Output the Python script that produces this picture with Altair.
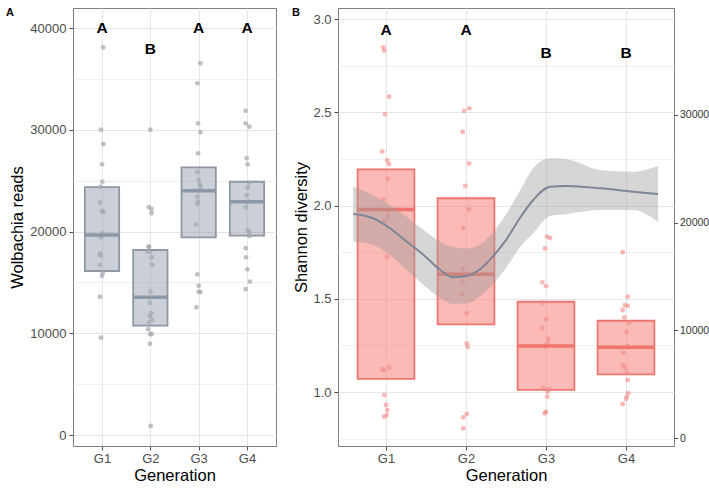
import altair as alt
import pandas as pd

FONT = "Liberation Sans"
generations = ["G1", "G2", "G3", "G4"]

# ---------------- Panel A: Wolbachia reads ----------------
a_g1 = [38100, 30000, 28600, 26600, 24900, 24400, 22830, 22000, 21950, 19820,
        19430, 17850, 17620, 16700, 15950, 15630, 13590, 9560]
a_g2 = [30000, 22380, 22210, 21790, 18540, 18450, 18050, 18000, 17470, 16710,
        14090, 13000, 11960, 11700, 11300, 11040, 10390, 9930, 9900, 8970, 880]
a_g3 = [36530, 34560, 30630, 29750, 27680, 25820, 25060, 24640, 24400, 24010,
        23420, 22930, 22700, 20700, 15790, 14670, 14090, 14050, 12550]
a_g4 = [31870, 30630, 30300, 27190, 26600, 24800, 24340, 23590, 22930, 22380,
        20150, 19920, 19560, 18350, 17460, 16280, 15070, 14320]
# horizontal jitter (category units)
a_j1 = [0.027, -0.021, 0.027, 0.0, 0.006, -0.027, -0.041, 0.0, 0.031, 0.01,
        -0.021, -0.041, -0.027, -0.041, 0.014, 0.0, -0.041, -0.021]
a_j2 = [0.0, -0.031, 0.025, 0.025, -0.031, -0.031, -0.058, -0.01, 0.025, 0.037,
        0.0, -0.01, 0.025, -0.01, 0.037, -0.031, -0.045, 0.025, 0.0, -0.01, 0.006]
a_j3 = [0.035, -0.027, -0.014, 0.035, -0.014, -0.027, 0.0, 0.021, 0.041, 0.006,
        -0.027, -0.014, -0.027, -0.047, -0.027, 0.0, 0.0, 0.035, -0.047]
a_j4 = [-0.027, -0.027, 0.047, -0.006, 0.014, 0.047, 0.014, -0.006, 0.027, -0.027,
        0.014, 0.047, 0.047, -0.027, -0.021, 0.006, 0.062, -0.027]
a_q1 = [16120, 10740, 19430, 19590]
a_med = [19660, 13530, 24010, 22930]
a_q3 = [24370, 18180, 26300, 24890]
a_letters = ["A", "B", "A", "A"]
a_letter_y = [40000, 37900, 40000, 40000]
a_ticks = [0, 5000, 10000, 15000, 20000, 25000, 30000, 35000, 40000]

# ---------------- Panel B: Shannon diversity ----------------
b_g1 = [2.848, 2.830, 2.583, 2.489, 2.289, 2.241, 2.222, 2.142, 2.033, 1.972,
        1.944, 1.917, 1.725, 1.121, 1.118, 1.132, 0.984, 0.930, 0.903, 0.877, 0.868]
b_g2 = [2.521, 2.507, 2.396, 2.226, 2.105, 1.980, 1.881, 1.658, 1.591, 1.525,
        1.422, 1.261, 1.243, 0.882, 0.864, 0.805]
b_g3 = [1.833, 1.826, 1.770, 1.588, 1.568, 1.479, 1.390, 1.342, 1.284, 1.262,
        1.243, 1.020, 1.015, 1.002, 0.975, 0.894, 0.886]
b_g4 = [1.749, 1.511, 1.466, 1.462, 1.440, 1.400, 1.372, 1.323, 1.247, 1.211,
        1.145, 1.130, 1.103, 1.064, 0.993, 0.975, 0.962, 0.935]
b_j1 = [-0.034, -0.021, 0.038, -0.013, -0.046, 0.016, 0.038, 0.021, -0.034, 0.016,
        0.029, -0.021, 0.009, -0.046, -0.025, 0.041, -0.021, 0.0, 0.016, 0.009, -0.025]
b_j2 = [0.041, -0.025, -0.041, 0.038, -0.009, 0.038, -0.034, -0.034, -0.046, -0.054,
        0.009, 0.009, 0.021, 0.009, -0.034, -0.034]
b_j3 = [0.013, 0.05, -0.013, -0.046, 0.0, -0.041, 0.0, -0.046, 0.029, 0.016,
        -0.013, -0.034, 0.041, 0.021, 0.016, 0.0, -0.016]
b_j4 = [-0.041, 0.021, -0.013, 0.021, -0.041, -0.021, 0.041, 0.009, 0.021, -0.034,
        -0.041, -0.013, 0.009, 0.021, 0.029, 0.009, 0.0, -0.041]
b_q1 = [1.070, 1.363, 1.011, 1.095]
b_med = [1.979, 1.631, 1.247, 1.240]
b_q3 = [2.194, 2.039, 1.484, 1.382]
b_letters = ["A", "A", "B", "B"]
b_letter_y = [2.94, 2.94, 2.82, 2.82]
b_ticks = [0.75, 1.0, 1.25, 1.5, 1.75, 2.0, 2.25, 2.5, 2.75, 3.0]

# smoothed Wolbachia reads (secondary axis) with confidence band
smooth_x = [0.59, 0.84, 1.05, 1.26, 1.47, 1.68, 1.84, 2.01, 2.18, 2.34, 2.51, 2.68,
            2.84, 3.05, 3.26, 3.68, 4.09, 4.40]
smooth_fit = [20805, 20406, 19477, 18232, 16997, 15604, 14926, 15047, 15700, 16900,
              18500, 20500, 22105, 23341, 23406, 23192, 22877, 22663]
smooth_hi = [23341, 22570, 21641, 20555, 19319, 18232, 17740, 17601, 18019, 19133,
             20870, 23034, 25050, 25978, 25885, 24892, 24734, 25263]
smooth_lo = [18232, 17926, 16997, 15604, 14211, 12975, 12446, 12492, 13189, 14304,
             15910, 17768, 19013, 20619, 20805, 21177, 21177, 20090]
r_ticks = [0, 10000, 20000, 30000]


def points_df(groups, jitters, col):
    rows = []
    for i, (vals, jit) in enumerate(zip(groups, jitters)):
        for v, j in zip(vals, jit):
            rows.append({"gen": i + 1, "pos": i + 1 + j, col: v})
    return pd.DataFrame(rows)


a_pts = points_df([a_g1, a_g2, a_g3, a_g4], [a_j1, a_j2, a_j3, a_j4], "val")
b_pts = points_df([b_g1, b_g2, b_g3, b_g4], [b_j1, b_j2, b_j3, b_j4], "val")
a_box = pd.DataFrame({"gen": [1, 2, 3, 4], "name": generations, "q1": a_q1,
                      "med": a_med, "q3": a_q3, "lab": a_letters, "ly": a_letter_y})
b_box = pd.DataFrame({"gen": [1, 2, 3, 4], "name": generations, "q1": b_q1,
                      "med": b_med, "q3": b_q3, "lab": b_letters, "ly": b_letter_y})
smooth = pd.DataFrame({"sx": smooth_x, "fit": smooth_fit, "lo": smooth_lo, "hi": smooth_hi})

HALF = 0.355
GRID = "#e6e6e6"


def xenc(field):
    return alt.X(f"{field}:Q",
                 scale=alt.Scale(domain=[0.4, 4.6], nice=False, zero=False),
                 axis=alt.Axis(values=[1, 2, 3, 4], labelExpr="'G' + datum.value",
                               title="Generation", grid=True, gridColor=GRID,
                               tickSize=4, labelPadding=2, titlePadding=2))


a_major = "datum.value % 10000 === 0"
b_major = "abs(datum.value * 2 - round(datum.value * 2)) < 0.0001"


def yA(field):
    return alt.Y(f"{field}:Q",
                 scale=alt.Scale(domain=[-1081, 41966], nice=False, zero=False),
                 axis=alt.Axis(values=a_ticks, format="d",
                               labelExpr=f"{a_major} ? datum.label : ''",
                               tickOpacity={"condition": {"test": a_major, "value": 1}, "value": 0},
                               gridWidth={"condition": {"test": a_major, "value": 1}, "value": 0.6},
                               title="Wolbachia reads", titlePadding=4, labelPadding=3,
                               tickSize=4))


def yB(field):
    return alt.Y(f"{field}:Q",
                 scale=alt.Scale(domain=[0.7105, 3.059], nice=False, zero=False),
                 axis=alt.Axis(values=b_ticks, format=".1f",
                               labelExpr=f"{b_major} ? datum.label : ''",
                               tickOpacity={"condition": {"test": b_major, "value": 1}, "value": 0},
                               gridWidth={"condition": {"test": b_major, "value": 1}, "value": 0.6},
                               title="Shannon diversity", titlePadding=3, labelPadding=3,
                               tickSize=4))


def yR(field):
    return alt.Y(f"{field}:Q",
                 scale=alt.Scale(domain=[-743, 39937], nice=False, zero=False),
                 axis=alt.Axis(orient="right", values=r_ticks, format="d", grid=False,
                               title=None, labelFontSize=10.5, labelColor="#333333",
                               tickSize=3.5, labelPadding=2))


# ---------- Panel A ----------
A_COL = "#8e97a4"
a_boxes = alt.Chart(a_box).transform_calculate(
    lo=f"datum.gen - {HALF}", hi=f"datum.gen + {HALF}"
).mark_rect(fill=A_COL, fillOpacity=0.45, stroke=A_COL, strokeWidth=1.8).encode(
    x=xenc("lo"), x2="hi:Q", y=yA("q1"), y2="q3:Q")
a_points = alt.Chart(a_pts).mark_circle(size=24, color="#a3a8b1", opacity=0.7).encode(
    x=xenc("pos"), y=yA("val"))
a_median = alt.Chart(a_box).transform_calculate(
    lo=f"datum.gen - {HALF}", hi=f"datum.gen + {HALF}"
).mark_rule(color=A_COL, strokeWidth=3.5).encode(
    x=xenc("lo"), x2="hi:Q", y=yA("med"))
a_text = alt.Chart(a_box).mark_text(font=FONT, fontSize=15.5, fontWeight="bold",
                                    color="black", baseline="middle").encode(
    x=xenc("gen"), y=yA("ly"), text="lab:N")

chartA = alt.layer(a_boxes, a_points, a_median, a_text).properties(
    width=203, height=438,
    title=alt.TitleParams("A", anchor="start", frame="group", orient="top", offset=0,
                          dx=-67, dy=18.5, baseline="alphabetic", fontSize=11,
                          fontWeight="bold", color="black", font=FONT))

# ---------- Panel B ----------
B_COL = "#f0756f"
b_boxes = alt.Chart(b_box).transform_calculate(
    lo=f"datum.gen - {HALF}", hi=f"datum.gen + {HALF}"
).mark_rect(fill="#f8766d", fillOpacity=0.5, stroke=B_COL, strokeWidth=1.8).encode(
    x=xenc("lo"), x2="hi:Q", y=yB("q1"), y2="q3:Q")
b_points = alt.Chart(b_pts).mark_circle(size=24, color="#f28a86", opacity=0.6).encode(
    x=xenc("pos"), y=yB("val"))
b_median = alt.Chart(b_box).transform_calculate(
    lo=f"datum.gen - {HALF}", hi=f"datum.gen + {HALF}"
).mark_rule(color=B_COL, strokeWidth=3.5).encode(
    x=xenc("lo"), x2="hi:Q", y=yB("med"))
b_text = alt.Chart(b_box).mark_text(font=FONT, fontSize=15.5, fontWeight="bold",
                                    color="black", baseline="middle").encode(
    x=xenc("gen"), y=yB("ly"), text="lab:N")
leftB = alt.layer(b_boxes, b_points, b_median, b_text)

band = alt.Chart(smooth).mark_area(color="#999999", opacity=0.4, interpolate="monotone").encode(
    x=xenc("sx"), y=yR("lo"), y2="hi:Q")
line = alt.Chart(smooth).mark_line(color="#7c8696", strokeWidth=2, interpolate="monotone").encode(
    x=xenc("sx"), y=yR("fit"))
rightB = alt.layer(band, line)

chartB = alt.layer(leftB, rightB).resolve_scale(y="independent").properties(
    width=336, height=438,
    title=alt.TitleParams("B", anchor="start", frame="group", orient="top", offset=0,
                          dx=-46, dy=18.5, baseline="alphabetic", fontSize=11,
                          fontWeight="bold", color="black", font=FONT))

chart = alt.hconcat(chartA, chartB, spacing=62, bounds="flush").properties(
    autosize=alt.AutoSizeParams(type="none"),
    padding={"left": 73, "top": 8, "right": 636, "bottom": 486},
).configure_view(stroke="#7f7f7f", strokeWidth=1).configure_axis(
    labelFont=FONT, titleFont=FONT, labelFontSize=13, titleFontSize=16.5,
    titleFontWeight="normal", labelColor="#4d4d4d", titleColor="black",
    tickColor="#4d4d4d", domain=False, gridColor=GRID
).configure_title(font=FONT)

chart.save("out.html", embed_options={"renderer": "svg", "actions": False})
